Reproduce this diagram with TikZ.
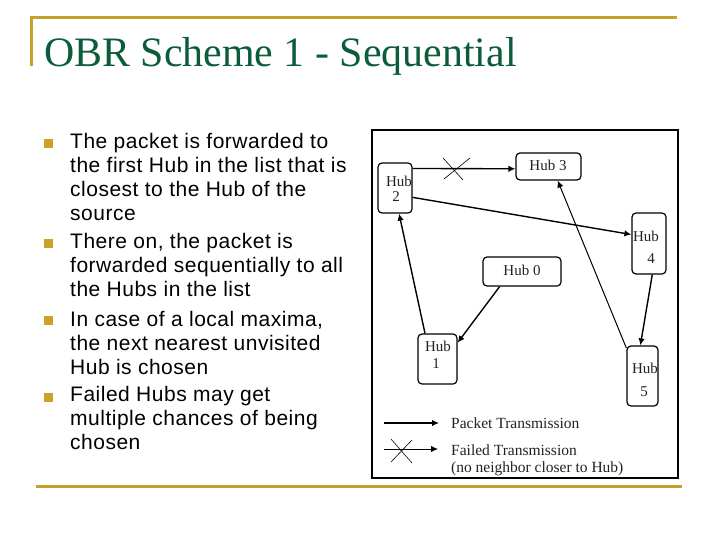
\documentclass[tikz,border=0pt]{standalone}
\usepackage{fontspec}
\setmainfont{Liberation Serif}
\setsansfont{Liberation Sans}[LetterSpace=2.4]
\usetikzlibrary{arrows.meta}
\definecolor{gold}{HTML}{C4A02C}
\definecolor{bulletgold}{HTML}{C9A227}
\definecolor{titlegreen}{HTML}{0B5C3A}
\definecolor{inkgrey}{HTML}{222222}
\tikzset{
  hubbox/.style={draw=black,line width=1.2pt,rounded corners=4pt,inner sep=0pt},
  hublabel/.style={inner sep=0pt,font=\rmfamily\fontsize{15}{16}\selectfont,text=inkgrey},
  legendtext/.style={inner sep=0pt,anchor=west,font=\rmfamily\fontsize{15.5}{16}\selectfont,text=inkgrey},
  link/.style={draw=black,line width=1.4pt,-{Latex[length=7pt,width=6.5pt]}},
  thinlink/.style={draw=black,line width=1pt,-{Latex[length=7pt,width=6.5pt]}},
  crossline/.style={draw=black,line width=.6pt},
  goldline/.style={draw=gold,line width=3pt},
  bodytext/.style={inner sep=0pt,anchor=north west,align=left,font=\sffamily\fontsize{21}{24}\selectfont,text=black},
  bulletmark/.style={fill=bulletgold,minimum size=9pt,inner sep=0pt},
}
\begin{document}
\begin{tikzpicture}[x=1pt,y=-1pt]
\useasboundingbox (0,0) rectangle (720,540);
\fill[white] (0,0) rectangle (720,540);
% slide rules
\coordinate (tl) at (31,18); \coordinate (tr) at (677,18); \coordinate (tb) at (31,66);
\coordinate (bl) at (36,486); \coordinate (br) at (682,486);
\draw[goldline] (tr) -- (tl) -- (tb);
\draw[goldline] (bl) -- (br);
% title
\node[inner sep=0pt,anchor=base west,text=titlegreen,font=\rmfamily\fontsize{41.9}{44}\selectfont] (title) at (44,67) {OBR Scheme 1 - Sequential};
% bullets
\node[bulletmark] (b1) at (48.5,144) {};
\node[bulletmark] (b2) at (48.5,243) {};
\node[bulletmark] (b3) at (48.5,320) {};
\node[bulletmark] (b4) at (48.5,397) {};
\node[bodytext] (t1) at (70,133.5) {The packet is forwarded to\\the first Hub in the list that is\\closest to the Hub of the\\source};
\node[bodytext] (t2) at (70,233.5) {There on, the packet is\\forwarded sequentially to all\\the Hubs in the list};
\node[bodytext] (t3) at (70,311) {In case of a local maxima,\\the next nearest unvisited\\Hub is chosen};
\node[bodytext] (t4) at (70,386) {Failed Hubs may get\\multiple chances of being\\chosen};
% figure frame
\node[draw=black,line width=2pt,minimum width=306pt,minimum height=348pt,inner sep=0pt] (frame) at (525,304) {};
% hubs
\node[hubbox,minimum width=34pt,minimum height=50pt] (hub2) at (395,188) {};
\node[hubbox,minimum width=65pt,minimum height=27pt] (hub3) at (548.5,166.5) {};
\node[hubbox,minimum width=34pt,minimum height=61pt] (hub4) at (649,243.5) {};
\node[hubbox,minimum width=78pt,minimum height=29pt] (hub0) at (522,271.5) {};
\node[hubbox,minimum width=39pt,minimum height=50pt] (hub1) at (437.5,359) {};
\node[hubbox,minimum width=31pt,minimum height=60pt] (hub5) at (642.5,376) {};
% hub labels
\node[hublabel] (l2a) at (399,181) {Hub};
\node[hublabel] (l2b) at (396,197) {2};
\node[hublabel] (l3) at (548,165) {Hub 3};
\node[hublabel] (l4a) at (646,236) {Hub};
\node[hublabel] (l4b) at (651,259) {4};
\node[hublabel] (l0) at (522,270) {Hub 0};
\node[hublabel] (l1a) at (438,346) {Hub};
\node[hublabel] (l1b) at (436,364) {1};
\node[hublabel] (l5a) at (645,368) {Hub};
\node[hublabel] (l5b) at (644,392) {5};
% connectors
\draw[link] (hub2.48) -- (hub3.184.4);
\draw[link] (hub2.-28) -- (hub4.153.4);
\draw[link] (hub1.116.6) -- (hub2.-81);
\draw[link] (hub0.214.6) -- (hub1.39);
\draw[link] (hub4.-84.4) -- (hub5.94.8);
\draw[thinlink] (hub5.120.8) -- (hub3.-57.8);
% failure cross
\coordinate (xa) at (443,158); \coordinate (xb) at (463,180);
\coordinate (xc) at (444,179); \coordinate (xd) at (470,158);
\draw[crossline] (xa) -- (xb);
\draw[crossline] (xc) -- (xd);
% legend
\coordinate (la) at (384,423); \coordinate (lb) at (439,423);
\coordinate (lc) at (384,449); \coordinate (ld) at (438,449);
\coordinate (le) at (391,439); \coordinate (lf) at (412,463);
\coordinate (lg) at (391,462); \coordinate (lh) at (412,440);
\draw[link] (la) -- (lb);
\draw[thinlink] (lc) -- (ld);
\draw[crossline] (le) -- (lf);
\draw[crossline] (lg) -- (lh);
\node[legendtext] (pt) at (451,423) {Packet Transmission};
\node[legendtext] (ft) at (451,450) {Failed Transmission};
\node[legendtext] (nn) at (451,468.5) {(no neighbor closer to Hub)};
\end{tikzpicture}
\end{document}
